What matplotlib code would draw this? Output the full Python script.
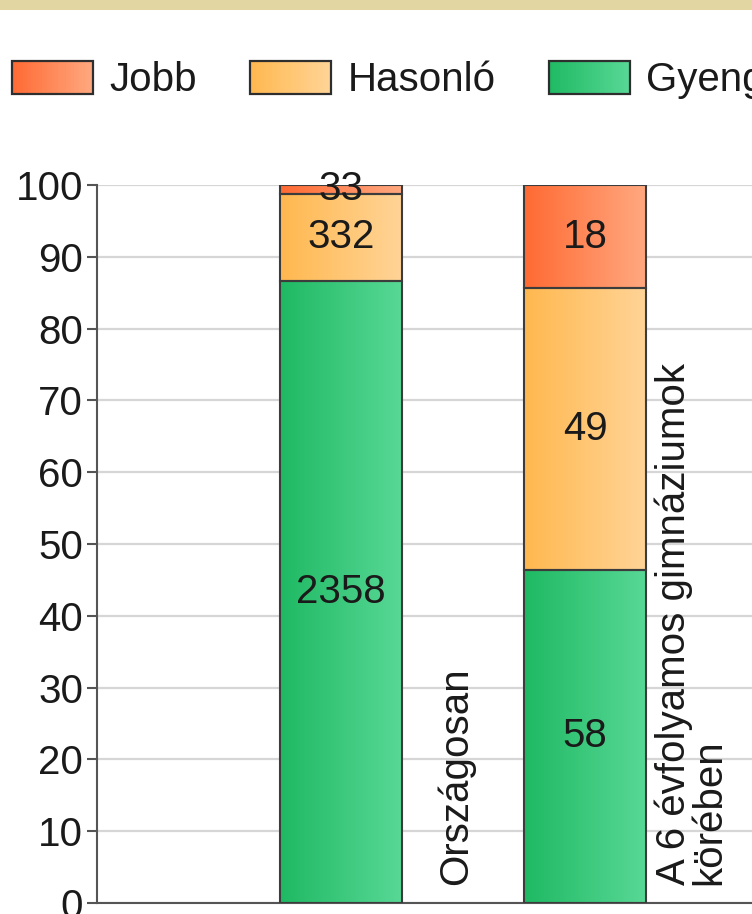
import numpy as np
import matplotlib
matplotlib.use("Agg")
import matplotlib.pyplot as plt
from matplotlib.patches import Rectangle, Patch
from matplotlib.legend_handler import HandlerBase
from matplotlib.colors import to_rgb

plt.rcParams['font.family'] = ['Liberation Sans', 'DejaVu Sans']

categories = ["Országosan", "A 6 évfolyamos gimnáziumok\nkörében"]
series_names = ["Jobb", "Hasonló", "Gyengébb"]
jobb = [33, 18]
hasonlo = [332, 49]
gyengebb = [2358, 58]
yticks = [0, 10, 20, 30, 40, 50, 60, 70, 80, 90, 100]

grad_colors = {
    "Jobb": ("#FF6A33", "#FFA880"),
    "Hasonló": ("#FFB84F", "#FFD497"),
    "Gyengébb": ("#1FB963", "#58D896"),
}

W, H = 752, 914
fig = plt.figure(figsize=(W / 100, H / 100), dpi=100)
fig.patches.append(Rectangle((0, 1 - 10 / H), 1, 10 / H, transform=fig.transFigure,
                             facecolor="#E2D6A2", edgecolor="none", zorder=0))

ax = fig.add_axes([97 / W, 11 / H, 1 - 97 / W, 718 / H])

FS = 29
counts = np.array([gyengebb, hasonlo, jobb], dtype=float)  # bottom to top
totals = counts.sum(axis=0)
pct = counts / totals * 100
names_bottom_up = ["Gyengébb", "Hasonló", "Jobb"]
xpos = np.arange(1, len(categories) + 1)
width = 0.5


def gradient_fill(ax, patch, c1, c2):
    x0, y0 = patch.get_x(), patch.get_y()
    w, h = patch.get_width(), patch.get_height()
    c1, c2 = np.array(to_rgb(c1)), np.array(to_rgb(c2))
    t = np.linspace(0, 1, 256)[None, :, None]
    img = c1 + (c2 - c1) * t
    im = ax.imshow(img, extent=[x0, x0 + w, y0, y0 + h], aspect="auto",
                   origin="lower", zorder=2, interpolation="bilinear")
    im.set_clip_path(patch)


bottom = np.zeros(len(categories))
for i, name in enumerate(names_bottom_up):
    bars = ax.bar(xpos, pct[i], width, bottom=bottom, facecolor="none",
                  edgecolor="#3c3c3c", linewidth=1.5, zorder=3)
    for j, b in enumerate(bars):
        gradient_fill(ax, b, *grad_colors[name])
        ax.text(b.get_x() + b.get_width() / 2, bottom[j] + pct[i][j] / 2,
                f"{int(counts[i][j])}", ha="center", va="center",
                fontsize=FS, color="#1a1a1a", zorder=5)
    bottom += pct[i]

# category labels (vertical, right of each bar)
label_dx = [0.39, 0.285]
for j, cat in enumerate(categories):
    ax.text(xpos[j] + label_dx[j], 2.5, cat, rotation=90, ha="left", va="bottom",
            fontsize=FS, color="#1a1a1a", linespacing=0.92, multialignment="left", zorder=5)

ax.set_xlim(0, (W - 97) / 244)
ax.set_ylim(0, 100)
ax.set_yticks(yticks)
ax.set_yticklabels([str(v) for v in yticks], fontsize=FS, color="#1a1a1a")
ax.set_xticks([])
ax.yaxis.grid(True, color="#d6d6d6", linewidth=1.6, zorder=0)
ax.set_axisbelow(True)
for s in ["top", "right"]:
    ax.spines[s].set_visible(False)
ax.spines["left"].set_color("#555555")
ax.spines["bottom"].set_color("#555555")
ax.spines["left"].set_linewidth(1.5)
ax.spines["bottom"].set_linewidth(1.5)
ax.tick_params(axis="y", length=7, width=1.5, color="#555555", pad=3)


class GradientHandler(HandlerBase):
    def create_artists(self, legend, orig_handle, xdescent, ydescent, width, height, fontsize, trans):
        c1, c2 = grad_colors[orig_handle.get_label()]
        c1, c2 = np.array(to_rgb(c1)), np.array(to_rgb(c2))
        n = 30
        arts = []
        for k in range(n):
            col = c1 + (c2 - c1) * (k + 0.5) / n
            r = Rectangle((-xdescent + width * k / n, -ydescent), width / n + 0.3, height,
                          facecolor=col, edgecolor="none", transform=trans)
            arts.append(r)
        arts.append(Rectangle((-xdescent, -ydescent), width, height, facecolor="none",
                              edgecolor="#2e2e2e", linewidth=1.6, transform=trans))
        return arts


handles = [Patch(label=n) for n in series_names]
fig.legend(handles=handles, labels=series_names, loc="center left",
           bbox_to_anchor=(12 / W, 1 - 80 / H), ncol=3, frameon=False, fontsize=FS,
           handlelength=2.0, handleheight=0.9, handletextpad=0.42, columnspacing=1.32,
           borderpad=0, borderaxespad=0, labelcolor="#1a1a1a",
           handler_map={Patch: GradientHandler()})

fig.savefig("out.png", dpi=100)
